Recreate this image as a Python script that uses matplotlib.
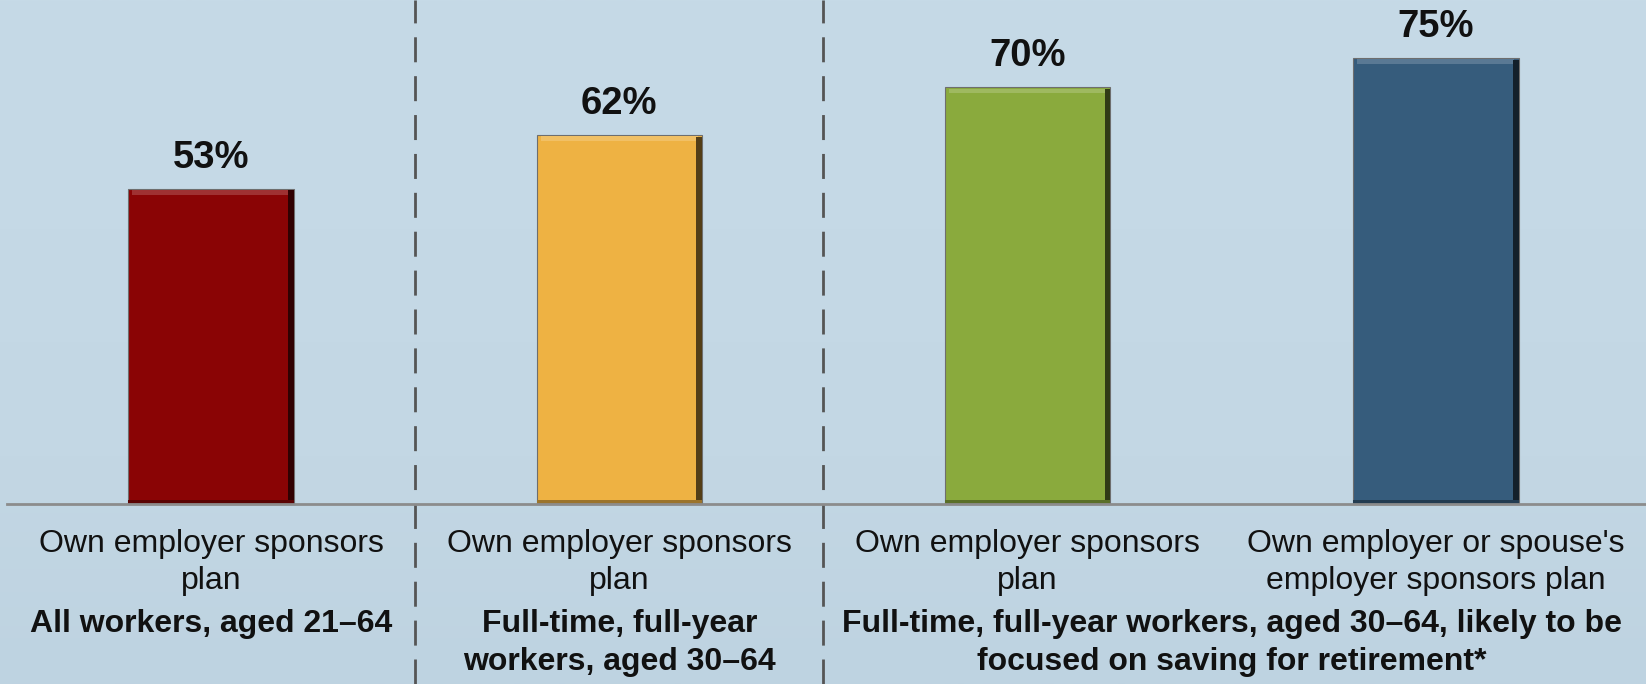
import numpy as np
import matplotlib
matplotlib.use("Agg")
import matplotlib.pyplot as plt
from matplotlib.colors import to_rgb, LinearSegmentedColormap

plt.rcParams['font.family'] = ['Liberation Sans', 'DejaVu Sans']

# data
categories = ["Own employer sponsors\nplan",
              "Own employer sponsors\nplan",
              "Own employer sponsors\nplan",
              "Own employer or spouse's\nemployer sponsors plan"]
values = [53, 62, 70, 75]
value_labels = ["53%", "62%", "70%", "75%"]
bar_colors = ["#8A0405", "#EEB243", "#8AAA3D", "#365C7C"]
groups = ["All workers, aged 21\u201364",
          "Full-time, full-year\nworkers, aged 30\u201364",
          "Full-time, full-year workers, aged 30\u201364, likely to be\nfocused on saving for retirement*"]
group_members = [[0], [1], [2, 3]]


def shade(c, f):
    r = np.array(to_rgb(c))
    if f > 0:
        return tuple(r + (1 - r) * f)
    return tuple(r * (1 + f))


fig = plt.figure(figsize=(16.46, 6.84), dpi=100)
ax = fig.add_axes([0, 0, 1, 1])

# background gradient
bg = LinearSegmentedColormap.from_list("bg", ["#C6DAE7", "#C5D9E6", "#C3D7E4", "#BED3E1"])
grad = np.linspace(0, 1, 256).reshape(-1, 1)
ax.imshow(grad, cmap=bg, aspect='auto', extent=[-0.52, 3.52, -30.3, 84.7],
          origin='upper', zorder=0)

x = np.arange(len(values))
w = 0.405
for xi, v, c in zip(x, values, bar_colors):
    ax.bar(xi, v, width=w, color=c, edgecolor="#6e6e6e", linewidth=0.8, zorder=2)
    # bevel: top highlight and right shadow
    ax.bar(xi, 0.8, bottom=v - 1.0, width=w * 0.95, color=shade(c, 0.18), linewidth=0, zorder=3)
    ax.bar(xi + w / 2 - 0.007, v - 0.3, width=0.014, color=shade(c, -0.65), linewidth=0, zorder=3)
    ax.bar(xi, 0.7, width=w, color=shade(c, -0.35), linewidth=0, zorder=3)

for xi, v, lab in zip(x, values, value_labels):
    ax.annotate(lab, xy=(xi, v), xytext=(0, 21), textcoords='offset pixels',
                ha='center', va='baseline', fontsize=27.5, fontweight='bold', color='#111111')

for xi, cat in zip(x, categories):
    for i, line in enumerate(cat.split("\n")):
        ax.annotate(line, xy=(xi, 0), xytext=(0, -40 - 37 * i), textcoords='offset pixels',
                    ha='center', va='center', fontsize=23, color='#111111')

for g, members in zip(groups, group_members):
    gx = np.mean(members)
    for i, line in enumerate(g.split("\n")):
        ax.annotate(line, xy=(gx, 0), xytext=(0, -120 - 38 * i), textcoords='offset pixels',
                    ha='center', va='center', fontsize=23, fontweight='bold', color='#111111')

# baseline and dividers
ax.plot([-0.5, 3.52], [0, 0], color="#8c8c8c", linewidth=2, zorder=4)
for dx in [0.5, 1.5]:
    ax.axvline(dx, color="#555555", linewidth=2, dashes=(9, 5), zorder=1)

ax.set_xlim(-0.5168, 3.5146)
ax.set_ylim(-30.25, 84.7)
ax.axis('off')

fig.savefig("out.png", dpi=100)
